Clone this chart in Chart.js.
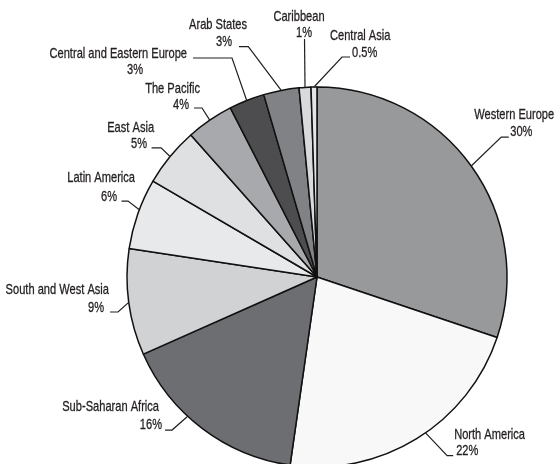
<!DOCTYPE html>
<html>
<head>
<meta charset="utf-8">
<script src="https://cdn.jsdelivr.net/npm/chart.js@4.4.1/dist/chart.umd.min.js"></script>
<style>
  html, body { margin: 0; padding: 0; width: 554px; height: 464px; overflow: hidden; background: #ffffff; }
  #wrap { position: absolute; left: 0; top: 0; width: 554px; height: 494px; }
</style>
</head>
<body>
<div id="wrap"><canvas id="c"></canvas></div>
<script>
// ---- data ----
const categories = ['Western Europe', 'North America', 'Sub-Saharan Africa', 'South and West Asia',
  'Latin America', 'East Asia', 'The Pacific', 'Central and Eastern Europe', 'Arab States',
  'Caribbean', 'Central Asia'];
const shares = [30, 22, 16, 9, 6, 5, 4, 3, 3, 1, 0.5];
const shareLabels = ['30%', '22%', '16%', '9%', '6%', '5%', '4%', '3%', '3%', '1%', '0.5%'];

// ---- styles ----
const sliceColors = ['#98999b', '#f8f8f8', '#6d6e71', '#d1d2d4', '#e8e9ea', '#dfe0e1',
  '#a7a9ac', '#4d4d4f', '#808285', '#d9dadc', '#e4e5e6'];

// label layout: f = attach position within slice (0..1), e = elbow offset from attach point,
// h = horizontal segment length, p / n = percent / name text offset from segment end
const labelLayout = [
  { f: 0.5,  e: [30, -29],    h: 7.5,  p: [1.5, -5, 'left'],   n: [-34.5, -22, 'left'] },
  { f: 0.46, e: [21.6, 22.7], h: 6,    p: [3, -5, 'left'],     n: [1, -20.5, 'left'] },
  { f: 0.6,  e: [-15.7, 13.8], h: -7,  p: [-3, -5, 'right'],   n: [-6, -23, 'right'] },
  { f: 0.5,  e: [-10.7, 9.6], h: -8,   p: [-6, -4, 'right'],   n: [-1, -22, 'right'] },
  { f: 0.56, e: [-11.3, -8.6], h: -6.5, p: [-4.5, -4, 'right'], n: [13.5, -23, 'right'] },
  { f: 0.5,  e: [-9, -8.6],   h: -9.5, p: [-4.5, -3.5, 'right'], n: [2.5, -20, 'right'] },
  { f: 0.5,  e: [-7.7, -12.2], h: -8,  p: [-5, -2.5, 'right'], n: [6, -19, 'right'] },
  { f: 0.5,  e: [-14.7, -42.5], h: -39, p: [-50, 12, 'right'], n: [-6, -4, 'right'] },
  { f: 0.5,  e: [-32.9, -43.7], h: -9.3, p: [-7, -4.7, 'right'], n: [8, -21.7, 'right'] },
  { f: 0.5,  e: [-0.5, -48.4], h: 0,   p: [-0.5, -6, 'center'], n: [-5.5, -22, 'center'] },
  { f: 0.5,  e: [28, -30],    h: 8,    p: [2, -4, 'left'],     n: [-20, -21, 'left'] }
];

const FONT = '14.5px "Liberation Sans", Arial, sans-serif';
const SQUEEZE = 0.765;
const INK = '#231f20';

function narrowText(ctx, text, x, y, align) {
  ctx.save();
  ctx.translate(x, y);
  ctx.scale(SQUEEZE, 1);
  ctx.textAlign = align;
  ctx.lineWidth = 0.3;
  ctx.strokeText(text, 0, 0);
  ctx.fillText(text, 0, 0);
  ctx.restore();
}

const leaderPlugin = {
  id: 'leaders',
  afterDatasetsDraw(chart) {
    const ctx = chart.ctx;
    const meta = chart.getDatasetMeta(0);
    ctx.save();
    ctx.font = FONT;
    ctx.fillStyle = INK;
    ctx.strokeStyle = INK;
    ctx.textBaseline = 'middle';
    meta.data.forEach((arc, i) => {
      const L = labelLayout[i];
      const p = arc.getProps(['x', 'y', 'startAngle', 'endAngle', 'outerRadius'], true);
      const a = p.startAngle + L.f * (p.endAngle - p.startAngle);
      const ax = p.x + p.outerRadius * Math.cos(a);
      const ay = p.y + p.outerRadius * Math.sin(a);
      const ex = ax + L.e[0], ey = ay + L.e[1];
      const hx = ex + L.h, hy = ey;
      ctx.lineWidth = 1.2;
      ctx.beginPath();
      ctx.moveTo(ax, ay);
      ctx.lineTo(ex, ey);
      ctx.lineTo(hx, hy);
      ctx.stroke();
      narrowText(ctx, shareLabels[i], hx + L.p[0], hy + L.p[1], L.p[2]);
      narrowText(ctx, categories[i], hx + L.n[0], hy + L.n[1], L.n[2]);
    });
    ctx.restore();
  }
};

new Chart(document.getElementById('c'), {
  type: 'pie',
  data: {
    labels: categories,
    datasets: [{
      data: shares,
      backgroundColor: sliceColors,
      borderColor: '#111111',
      borderWidth: 1.5,
      borderAlign: 'center',
      hoverOffset: 0,
      offset: 0
    }]
  },
  options: {
    responsive: true,
    maintainAspectRatio: false,
    animation: false,
    radius: 190,
    layout: { padding: { top: 87, bottom: 27, left: 127, right: 47 } },
    plugins: {
      legend: { display: false },
      tooltip: { enabled: false }
    },
    events: []
  },
  plugins: [leaderPlugin]
});
</script>
</body>
</html>
